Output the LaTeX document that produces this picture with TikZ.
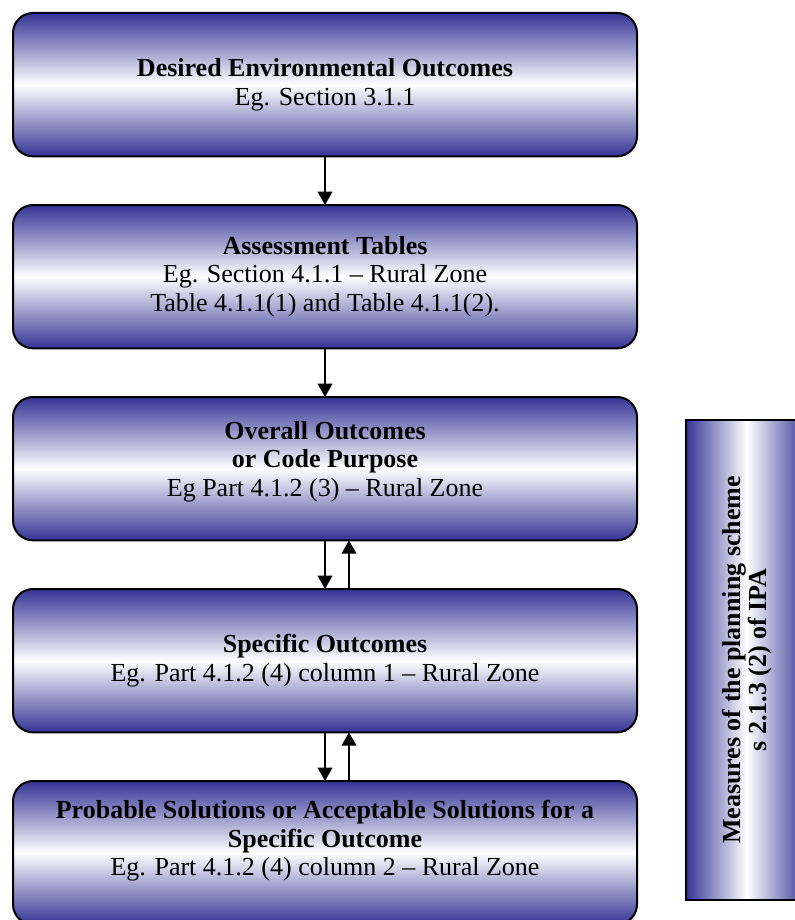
\documentclass[tikz,border=0pt]{standalone}
\usepackage{fontspec}
\setmainfont{Liberation Serif}
\usetikzlibrary{positioning,arrows.meta}
\definecolor{navy}{RGB}{52,52,150}
% extra depth under the last line, to push a text block upwards
\newcommand{\liftby}[1]{\rule[-#1]{0pt}{#1}}

\begin{document}
\begin{tikzpicture}[
    font=\fontsize{19.5}{21.5}\selectfont,
    stage/.style={
        draw,
        rounded corners=15pt,
        line width=1.5pt,
        outer sep=0pt,
        inner sep=0pt,
        minimum width=468pt,
        minimum height=107.5pt,
        align=center,
        top color=navy,
        bottom color=navy,
        middle color=white
    },
    scheme/.style={
        draw,
        line width=1.5pt,
        inner sep=0pt,
        rotate=90,
        align=center,
        minimum width=360pt,
        minimum height=91.5pt,
        font=\fontsize{19.5}{20}\selectfont\bfseries,
        left color=navy,
        right color=navy,
        middle color=white
    },
    arrow/.style={-{Triangle[width=11pt,length=10pt]}, line width=1.5pt}
]
\useasboundingbox (0,0) rectangle (596.25pt,-690pt);

% ============================================================
% STAGES OF THE SCHEME
% ============================================================
\node[stage] (desired) at (243.75pt,-63.5pt)
    {\textbf{Desired Environmental Outcomes}\\Eg. Section 3.1.1};
\node[stage, below=36.5pt of desired] (tables)
    {\textbf{Assessment Tables}\\Eg. Section 4.1.1 -- Rural Zone\\
     Table 4.1.1(1) and Table 4.1.1(2).};
\node[stage, below=36.5pt of tables] (overall)
    {\textbf{Overall Outcomes}\\\textbf{or Code Purpose}\\
     Eg Part 4.1.2 (3) -- Rural Zone\liftby{15pt}};
\node[stage, below=36.5pt of overall] (specific)
    {\textbf{Specific Outcomes}\\Eg. Part 4.1.2 (4) column 1 -- Rural Zone};
\node[stage, below=36.5pt of specific] (solutions)
    {\textbf{Probable Solutions or Acceptable Solutions for a}\\
     \textbf{Specific Outcome}\\Eg. Part 4.1.2 (4) column 2 -- Rural Zone\liftby{22pt}};

\draw[arrow] (desired) -- (tables);
\draw[arrow] (tables) -- (overall);
\draw[arrow] (overall) -- (specific);
\draw[arrow] ([xshift=18pt]specific.north) -- ([xshift=18pt]overall.south);
\draw[arrow] (specific) -- (solutions);
\draw[arrow] ([xshift=18pt]solutions.north) -- ([xshift=18pt]specific.south);

% ============================================================
% SIDE BAR
% ============================================================
\node[scheme] (measures) at (560.25pt,-495pt)
    {Measures of the planning scheme\\s 2.1.3 (2) of IPA};

\end{tikzpicture}
\end{document}
